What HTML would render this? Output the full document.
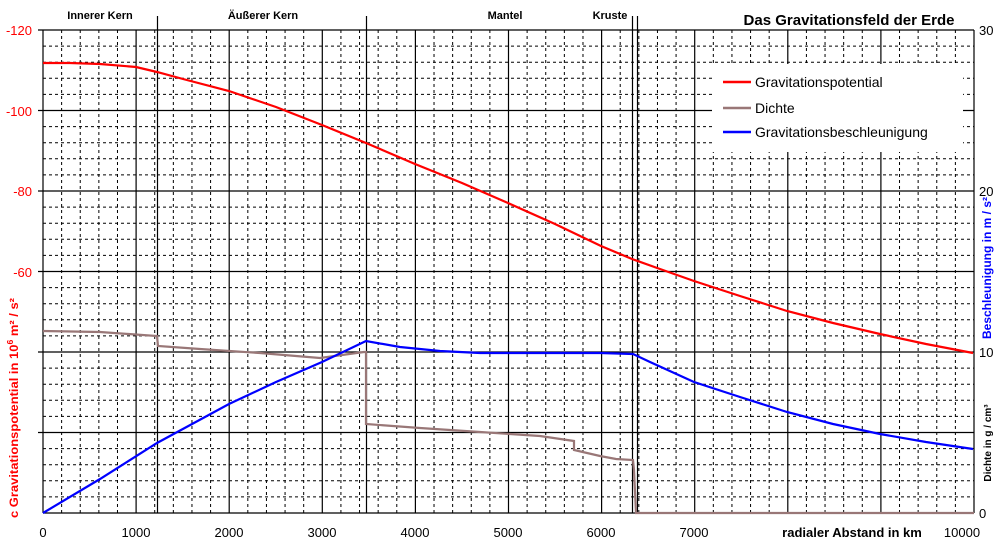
<!DOCTYPE html>
<html><head><meta charset="utf-8"><style>
body{margin:0;background:#fff}
svg{display:block;font-family:"Liberation Sans",Arial,sans-serif}
</style></head><body>
<svg id="s" width="1004" height="550" viewBox="0 0 1004 550" xmlns="http://www.w3.org/2000/svg">
<rect width="1004" height="550" fill="#fff"/>
<g id="grid"></g>
<rect x="712" y="64" width="251" height="88" fill="#fff"/>
<g stroke="#000" stroke-width="1.2">
<line x1="157.5" y1="16" x2="157.5" y2="513"/>
<line x1="366.5" y1="16" x2="366.5" y2="513"/>
<line x1="632.5" y1="16" x2="632.5" y2="513"/>
<line x1="637.5" y1="16" x2="637.5" y2="513"/>
<line x1="43" y1="30" x2="43" y2="513"/>
<line x1="974" y1="30" x2="974" y2="513"/>
<line x1="43" y1="513" x2="974" y2="513"/>
</g>
<g font-size="11" font-weight="bold" text-anchor="middle">
<text x="100" y="19">Innerer Kern</text>
<text x="263" y="19">Äußerer Kern</text>
<text x="505" y="19">Mantel</text>
<text x="610" y="19">Kruste</text>
</g>
<text x="849" y="25" font-size="15" font-weight="bold" text-anchor="middle">Das Gravitationsfeld der Erde</text>
<g font-size="13" fill="#f00" text-anchor="end">
<text x="32" y="35">-120</text><text x="32" y="116">-100</text><text x="32" y="196">-80</text>
<text x="32" y="277">-60</text>
</g>
<g font-size="13" text-anchor="start">
<text x="979" y="35">30</text><text x="979" y="196">20</text><text x="979" y="357">10</text><text x="979" y="518">0</text>
</g>
<g font-size="13" text-anchor="middle">
<text x="43" y="537">0</text><text x="136" y="537">1000</text><text x="229" y="537">2000</text>
<text x="322" y="537">3000</text><text x="415" y="537">4000</text><text x="508" y="537">5000</text>
<text x="601" y="537">6000</text><text x="694" y="537">7000</text><text x="962" y="537">10000</text>
</g>
<text x="852" y="537" font-size="13" font-weight="bold" text-anchor="middle">radialer Abstand in km</text>
<text transform="translate(18,408) rotate(-90)" font-size="12" font-weight="bold" fill="#f00" text-anchor="middle" textLength="220" lengthAdjust="spacingAndGlyphs">c Gravitationspotential in 10<tspan font-size="8" dy="-5">6</tspan><tspan dy="5"> m² / s²</tspan></text>
<text transform="translate(991,268) rotate(-90)" font-size="12" font-weight="bold" fill="#00f" text-anchor="middle">Beschleunigung in m / s²</text>
<text transform="translate(991,443) rotate(-90)" font-size="10" font-weight="bold" text-anchor="middle">Dichte in g / cm³</text>
<g fill="none" stroke-width="2.2">
<polyline stroke="#f00" points="43,63 70,63 100,64 136,67 157,72 183,79 229,91 276,107 322,125 366,143 415,164 462,183 508,203 555,224 601,246 632,259 660,269 694,281 740,296 787,311 833,323 880,334 926,344 973,353"/>
<polyline stroke="#977" points="43,331 100,332 157,336 158,346 200,349 260,353 320,358 364,352 366,352 366,424 420,428 480,432 540,436 574,441 574,450 600,456 616,459 633,460 634,470 636,513 974,513"/>
<polyline stroke="#00f" points="43,513 100,479 157,443 229,404 276,382 322,362 366,341 400,347 440,351 480,353 540,353 600,353 633,354 650,362 694,382 740,397 787,412 833,424 880,434 926,442 973,449"/>
</g>
<g stroke-width="2.5">
<line x1="723" y1="82" x2="751" y2="82" stroke="#f00"/>
<line x1="723" y1="108" x2="751" y2="108" stroke="#977"/>
<line x1="723" y1="132" x2="751" y2="132" stroke="#00f"/>
</g>
<g font-size="14">
<text x="755" y="87">Gravitationspotential</text>
<text x="755" y="113">Dichte</text>
<text x="755" y="137">Gravitationsbeschleunigung</text>
</g>
</svg>
<script>
var g=document.getElementById('grid'),h='';
for(var i=1;i<50;i++){var x=43+i*18.62;if(i%5==0)h+='<line x1="'+x+'" y1="30" x2="'+x+'" y2="513" stroke="#000" stroke-width="1.2"/>';else h+='<line x1="'+x+'" y1="30" x2="'+x+'" y2="513" stroke="#000" stroke-dasharray="3,3"/>';}
for(var j=0;j<30;j++){var y=30+j*16.1;if(j%5==0)h+='<line x1="38" y1="'+y+'" x2="974" y2="'+y+'" stroke="#000" stroke-width="1.2"/>';else h+='<line x1="43" y1="'+y+'" x2="974" y2="'+y+'" stroke="#000" stroke-dasharray="3,3"/>';}
g.innerHTML=h;
</script>
</body></html>
